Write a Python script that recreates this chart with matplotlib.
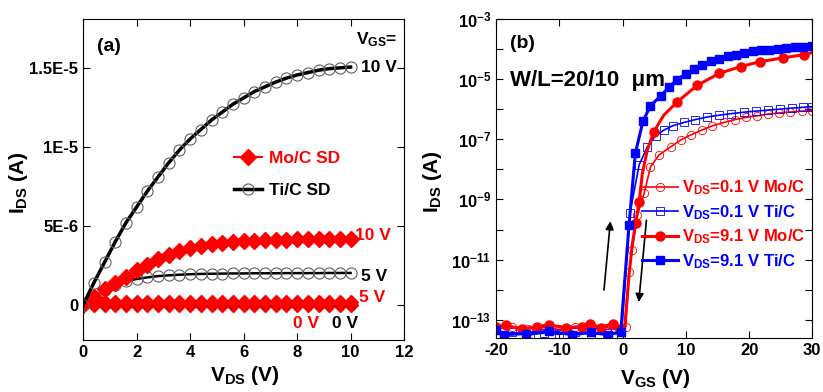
import numpy as np
import matplotlib.pyplot as plt

plt.rcParams['font.family'] = ['Liberation Sans', 'DejaVu Sans']
plt.rcParams['font.weight'] = 'bold'
plt.rcParams['mathtext.fontset'] = 'custom'
plt.rcParams['mathtext.rm'] = 'Liberation Sans:bold'
plt.rcParams['mathtext.bf'] = 'Liberation Sans:bold'
plt.rcParams['mathtext.it'] = 'Liberation Sans:bold'
plt.rcParams['axes.linewidth'] = 0.8
plt.rcParams['axes.unicode_minus'] = False

RED = '#ff0000'
BLUE = '#0000ff'

# (a) output curves, I_DS in uA
vds = [0, 0.4, 0.8, 1.2, 1.6, 2.0, 2.4, 2.8, 3.2, 3.6, 4.0, 4.4, 4.8, 5.2, 5.6,
       6.0, 6.4, 6.8, 7.2, 7.6, 8.0, 8.4, 8.8, 9.2, 9.6, 10.0]
ti_10 = [0, 1.4, 2.7, 4.0, 5.2, 6.2, 7.2, 8.1, 9.0, 9.8, 10.5, 11.1, 11.7, 12.2, 12.7,
         13.1, 13.5, 13.8, 14.1, 14.35, 14.55, 14.7, 14.85, 14.95, 15.0, 15.05]
mo_10 = [0, 0.5, 1.0, 1.4, 1.8, 2.2, 2.55, 2.9, 3.15, 3.4, 3.6, 3.75, 3.85, 3.95, 4.0,
         4.05, 4.08, 4.1, 4.12, 4.14, 4.15, 4.16, 4.17, 4.18, 4.19, 4.2]
ti_5 = [0, 0.5, 0.95, 1.25, 1.5, 1.65, 1.75, 1.83, 1.88, 1.92, 1.95, 1.97, 1.98, 1.99, 2.0,
        2.0, 2.01, 2.01, 2.01, 2.02, 2.02, 2.02, 2.02, 2.03, 2.03, 2.03]
mo_5 = [0, 0.15, 0.18, 0.19, 0.2, 0.2, 0.2, 0.2, 0.2, 0.2, 0.2, 0.2, 0.2, 0.2, 0.2,
        0.2, 0.2, 0.2, 0.2, 0.2, 0.2, 0.2, 0.2, 0.2, 0.2, 0.2]
ti_0 = [0, 0, 0, 0, 0, 0, 0, 0, 0, 0, 0, 0, 0, 0, 0, 0, 0, 0, 0, 0, 0, 0, 0, 0, 0, 0]
mo_0 = [0, 0, 0, 0, 0, 0, 0, 0, 0, 0, 0, 0, 0, 0, 0, 0, 0, 0, 0, 0, 0, 0, 0, 0, 0, 0]

# (b) transfer curves
vgs_mo01 = [-20, -17.5, -15, -12.5, -10, -7.5, -5, -2.5, -0.5, 0.5, 1.0, 1.5, 2.3, 3.4, 4.4,
            5.75, 7.6, 9.2, 10.8, 12.5, 14.2, 16, 17.8, 19.5, 21.3, 23, 24.8, 26.5, 28.3, 30]
ids_mo01 = [5e-14, 6e-14, 5e-14, 5.5e-14, 4.8e-14, 6e-14, 5e-14, 5.5e-14, 4.5e-14, 6e-14,
            4e-12, 2.1e-11, 3e-10, 1.6e-9, 1.2e-8, 3e-8, 5.6e-8, 9.5e-8, 1.4e-7, 2.0e-7,
            2.8e-7, 3.6e-7, 4.5e-7, 5.3e-7, 6.0e-7, 6.8e-7, 7.5e-7, 8.0e-7, 8.6e-7, 9.0e-7]

vgs_ti01 = [-20, -17.5, -14.6, -12.5, -10, -7.5, -5, -2.5, -0.2, 1.16, 2.6, 3.9, 5.2, 6.5,
            7.9, 9.7, 11.5, 13.4, 15.3, 17.2, 19.2, 21.1, 23.0, 24.9, 26.8, 28.5, 30]
ids_ti01 = [3.5e-14, 3.8e-14, 3.2e-14, 3.6e-14, 3.3e-14, 3.8e-14, 3.4e-14, 3.6e-14, 3.4e-14,
            3.6e-10, 1.4e-8, 5.6e-8, 1.3e-7, 2.0e-7, 2.8e-7, 3.6e-7, 4.5e-7, 5.5e-7, 6.3e-7,
            7.1e-7, 7.9e-7, 8.6e-7, 9.3e-7, 1.0e-6, 1.08e-6, 1.15e-6, 1.22e-6]

vgs_mo91 = [-20, -18.5, -16.0, -13.5, -11.7, -9.0, -6.5, -5.1, -3.5, -1.6, -0.5, 0.3, 1.0,
            1.5, 2.06, 2.6, 3.1, 3.9, 4.95, 6.5, 8.65, 11.8, 15.3, 18.7, 21.8, 25.3, 28.7, 30]
ids_mo91 = [6e-14, 6.5e-14, 5e-14, 6e-14, 6.8e-14, 5.5e-14, 6e-14, 7.5e-14, 5.5e-14, 7.5e-14,
            5e-14, 5e-14, 3e-12, 3e-11, 1.7e-10, 8e-10, 7e-9, 4.4e-8, 1.8e-7, 6.3e-7,
            1.75e-6, 6.2e-6, 1.55e-5, 2.6e-5, 3.8e-5, 5.0e-5, 6.5e-5, 7.6e-5]
marks_mo91 = [0, 1, 2, 3, 4, 5, 6, 7, 8, 9, 10, 14, 15, 18, 20, 21, 22, 23, 24, 25, 26]

vgs_ti91 = [-20, -18.8, -15.3, -11.7, -8.0, -5.0, -2.4, -0.3, 1.0, 2.0, 3.2, 4.4, 6.0, 7.3,
            8.6, 10.0, 11.3, 12.6, 14.0, 15.3, 16.6, 17.9, 19.2, 20.6, 21.9, 23.2, 24.6,
            25.9, 27.2, 28.5, 30.0]
ids_ti91 = [4.5e-14, 3.2e-14, 3.5e-14, 4.2e-14, 3.2e-14, 3.8e-14, 3.2e-14, 4.0e-14, 1.4e-10,
            3.4e-8, 3.9e-7, 1.3e-6, 2.7e-6, 5.4e-6, 9.5e-6, 1.5e-5, 2.1e-5, 3.0e-5, 3.9e-5,
            4.8e-5, 5.8e-5, 6.5e-5, 7.4e-5, 8.3e-5, 9.1e-5, 9.5e-5, 1.02e-4, 1.07e-4,
            1.15e-4, 1.17e-4, 1.23e-4]

fig = plt.figure(figsize=(8.23, 3.92), dpi=100)
ax1 = fig.add_axes([0.101, 0.133, 0.390, 0.819])
ax2 = fig.add_axes([0.603, 0.138, 0.384, 0.814])

# ---- (a)
ua = 1e-6
ax1.plot(vds, np.array(mo_0) * ua, '-', color=RED, lw=1.5, marker='D', ms=7.5, mec=RED, mfc=RED)
ax1.plot(vds, np.array(ti_0) * ua, '--', color='black', lw=1.0, marker='o', ms=5, mfc='none',
         mec='#8b0000', mew=0.8)
ax1.plot(vds, np.array(mo_5) * ua, '-', color=RED, lw=1.5, marker='D', ms=7.5, mec=RED, mfc=RED)
ax1.plot(vds, np.array(ti_5) * ua, '-', color='black', lw=1.8, marker='o', ms=8, mfc='none',
         mec='#606060', mew=0.8)
ax1.plot(vds, np.array(mo_10) * ua, '-', color=RED, lw=1.5, marker='D', ms=8.5, mec=RED, mfc=RED,
         label='Mo/C SD')
ax1.plot(vds, np.array(ti_10) * ua, '-', color='black', lw=2.5, marker='o', ms=8, mfc='none',
         mec='#606060', mew=0.8, label='Ti/C SD')

ax1.set_xlim(0, 12)
ax1.set_ylim(-2.2e-6, 1.81e-5)
ax1.set_xticks([0, 2, 4, 6, 8, 10, 12])
ax1.set_yticks([0, 5e-6, 1e-5, 1.5e-5])
ax1.set_yticklabels(['0', '5E-6', '1E-5', '1.5E-5'])
ax1.tick_params(direction='in', top=True, right=True, length=5, labelsize=12, width=0.8)
ax1.set_xlabel(r'V$_{\mathbf{DS}}$ (V)', fontsize=15, fontweight='bold')
ax1.set_ylabel(r'I$_{\mathbf{DS}}$ (A)', fontsize=15, fontweight='bold')
ax1.xaxis.set_label_coords(0.505, -0.075)
ax1.yaxis.set_label_coords(-0.165, 0.49)

ax1.text(0.044, 0.94, '(a)', transform=ax1.transAxes, fontsize=14, fontweight='bold',
         ha='left', va='top')
ax1.text(10.2, 16.8e-6, r'V$_{\mathbf{GS}}$=', fontsize=12.5, ha='left', va='center')
ax1.text(10.4, 15.0e-6, '10 V', fontsize=12.5, ha='left', va='center')
ax1.text(10.15, 4.4e-6, '10 V', fontsize=12.5, color=RED, ha='left', va='center')
ax1.text(10.4, 1.8e-6, '5 V', fontsize=12.5, ha='left', va='center')
ax1.text(10.3, 0.45e-6, '5 V', fontsize=12.5, color=RED, ha='left', va='center')
ax1.text(7.85, -1.15e-6, '0 V', fontsize=12.5, color=RED, ha='left', va='center')
ax1.text(9.3, -1.15e-6, '0 V', fontsize=12.5, ha='left', va='center')

leg1 = ax1.legend(loc='upper left', bbox_to_anchor=(0.47, 0.59), frameon=False, fontsize=12.5,
                  handlelength=1.6, handletextpad=0.4, labelspacing=1.0, borderpad=0,
                  borderaxespad=0, numpoints=1)
for txt, c in zip(leg1.get_texts(), [RED, 'black']):
    txt.set_color(c)

# ---- (b)
ax2.plot(vgs_mo01, ids_mo01, '-', color=RED, lw=1.2, marker='o', ms=6, mfc='none', mec=RED,
         mew=0.6, label=r'V$_{\mathbf{DS}}$=0.1 V Mo/C')
ax2.plot(vgs_ti01, ids_ti01, '-', color=BLUE, lw=1.2, marker='s', ms=6, mfc='none', mec=BLUE,
         mew=0.6, label=r'V$_{\mathbf{DS}}$=0.1 V Ti/C')
ax2.plot(vgs_mo91, ids_mo91, '-', color=RED, lw=2.2, marker='o', ms=6.5, mfc=RED, mec=RED,
         markevery=marks_mo91, label=r'V$_{\mathbf{DS}}$=9.1 V Mo/C')
ax2.plot(vgs_ti91, ids_ti91, '-', color=BLUE, lw=2.2, marker='s', ms=6, mfc=BLUE, mec=BLUE,
         label=r'V$_{\mathbf{DS}}$=9.1 V Ti/C')

ax2.set_yscale('log')
ax2.set_xlim(-20, 30)
ax2.set_ylim(10 ** -13.6, 1e-3)
ax2.set_xticks([-20, -10, 0, 10, 20, 30])
exps = list(range(-13, -2))
ax2.set_yticks([10.0 ** e for e in exps])
ax2.set_yticklabels([r'$\mathbf{10^{%d}}$' % e if e % 2 else '' for e in exps])
ax2.yaxis.set_minor_locator(plt.NullLocator())
ax2.tick_params(direction='in', top=True, right=True, length=5, labelsize=12, width=0.8)
ax2.set_xlabel(r'V$_{\mathbf{GS}}$ (V)', fontsize=15, fontweight='bold')
ax2.set_ylabel(r'I$_{\mathbf{DS}}$ (A)', fontsize=15, fontweight='bold')
ax2.xaxis.set_label_coords(0.503, -0.09)
ax2.yaxis.set_label_coords(-0.165, 0.49)

ax2.text(0.044, 0.95, '(b)', transform=ax2.transAxes, fontsize=14, fontweight='bold',
         ha='left', va='top')
ax2.text(0.044, 0.84, 'W/L=20/10  \u03bcm', transform=ax2.transAxes, fontsize=16,
         fontweight='bold', ha='left', va='top')

arrow = dict(arrowstyle='-|>', color='black', lw=1.2, mutation_scale=12)
ax2.annotate('', xy=(-1.9, 10 ** -9.63), xytext=(-3.0, 10 ** -12.1), arrowprops=arrow)
ax2.annotate('', xy=(2.5, 10 ** -12.5), xytext=(3.8, 10 ** -9.6), arrowprops=arrow)

leg2 = ax2.legend(loc='upper left', bbox_to_anchor=(0.46, 0.5), frameon=False, fontsize=12,
                  handlelength=2.2, handletextpad=0.2, labelspacing=0.35, borderpad=0,
                  borderaxespad=0, numpoints=1)
for txt, c in zip(leg2.get_texts(), [RED, BLUE, RED, BLUE]):
    txt.set_color(c)

fig.savefig('out.png', dpi=100)
